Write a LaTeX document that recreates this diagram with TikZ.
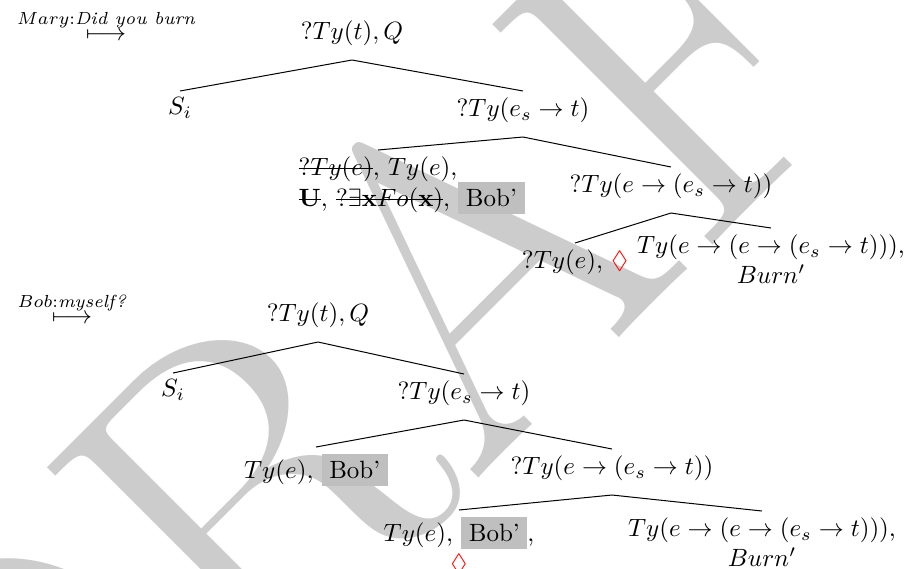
\documentclass[tikz,border=0pt]{standalone}
\usepackage{amsmath,amssymb}
\usepackage{xcolor,tikz}
\usetikzlibrary{positioning,calc}
\definecolor{wmGray}{gray}{0.8}
\definecolor{bobGray}{gray}{0.75}
\newsavebox{\strkbox}
\newcommand{\strk}[1]{\sbox{\strkbox}{#1}\rlap{\rule[0.65ex]{\wd\strkbox}{0.4pt}}\usebox{\strkbox}}
\newcommand{\bob}{\colorbox{bobGray}{Bob’}}
\newcommand{\dia}{\textcolor{red}{$\Diamond$}}

\begin{document}
\begin{tikzpicture}[x=0.4pt,y=-0.4pt,
  tnode/.style={inner xsep=1.5pt, inner ysep=2.5pt},
  pnode/.style={tnode, text height=7.5pt, text depth=5.5pt},
  lnode/.style={tnode, anchor=north},
  branch/.style={line width=0.4pt}]

% --- CANVAS (904 x 568 px, 1px = 0.4pt) ---
\useasboundingbox (0,0) rectangle (904,568);

% --- WATERMARK (behind everything) ---
\begin{scope}
  \clip (0,0) rectangle (904,568);
  \node[rotate=45, anchor=base, inner sep=0pt, text=wmGray,
    font=\fontsize{183}{183}\selectfont] (wm) at (565,392) {DRAFT};
\end{scope}

% --- STEP 1: Mary ---
\node (mary) at (106,25) {$\stackrel{Mary:\textit{Did you burn}}{\longmapsto}$};

\node[pnode, anchor=south] (r1) at (352,60) {$?Ty(t), Q$};
\node[lnode] (s1) at (180,91) {$S_i$};
\node[pnode, anchor=north] (v1) at (523,91) {$?Ty(e_s \rightarrow t)$};
\node[tnode, anchor=north] (lc1) at (378,150)
  {\strk{$?Ty(e)$}, $Ty(e)$,};
\node[tnode, anchor=base west] (lc1b) at ([yshift=-12.4pt]lc1.base west)
  {\strk{$\mathbf{U}$}, \strk{$?\exists\mathbf{x}Fo(\mathbf{x})$}, \bob};
\node[pnode, anchor=north] (rc1) at (671,167) {$?Ty(e \rightarrow (e_s \rightarrow t))$};
\node[lnode] (d1) at (575,243) {$?Ty(e)$, \dia};
\node[lnode, align=center] (f1) at (771,228)
  {$Ty(e \rightarrow (e \rightarrow (e_s \rightarrow t)))$,\\ $Burn'$};

\draw[branch] (r1.south) -- (s1.north);
\draw[branch] (r1.south) -- (v1.north);
\draw[branch] (v1.south) -- (lc1.north);
\draw[branch] (v1.south) -- (rc1.north);
\draw[branch] (rc1.south) -- (d1.north);
\draw[branch] (rc1.south) -- (f1.north);

% --- STEP 2: Bob ---
\node (bobsays) at (72,308) {$\stackrel{Bob:\textit{myself?}}{\longmapsto}$};

\node[pnode, anchor=south] (r2) at (318,342) {$?Ty(t), Q$};
\node[lnode] (s2) at (173,373) {$S_i$};
\node[pnode, anchor=north] (v2) at (464,374) {$?Ty(e_s \rightarrow t)$};
\node[lnode] (lc2) at (316,447) {$Ty(e)$, \bob};
\node[pnode, anchor=north] (rc2) at (612,449) {$?Ty(e \rightarrow (e_s \rightarrow t))$};
\node[lnode, align=center] (d2) at (459,510) {$Ty(e)$, \bob,\\ \dia};
\node[lnode, align=center] (f2) at (762,511)
  {$Ty(e \rightarrow (e \rightarrow (e_s \rightarrow t)))$,\\ $Burn'$};

\draw[branch] (r2.south) -- (s2.north);
\draw[branch] (r2.south) -- (v2.north);
\draw[branch] (v2.south) -- (lc2.north);
\draw[branch] (v2.south) -- (rc2.north);
\draw[branch] (rc2.south) -- (d2.north);
\draw[branch] (rc2.south) -- (f2.north);

\end{tikzpicture}
\end{document}
